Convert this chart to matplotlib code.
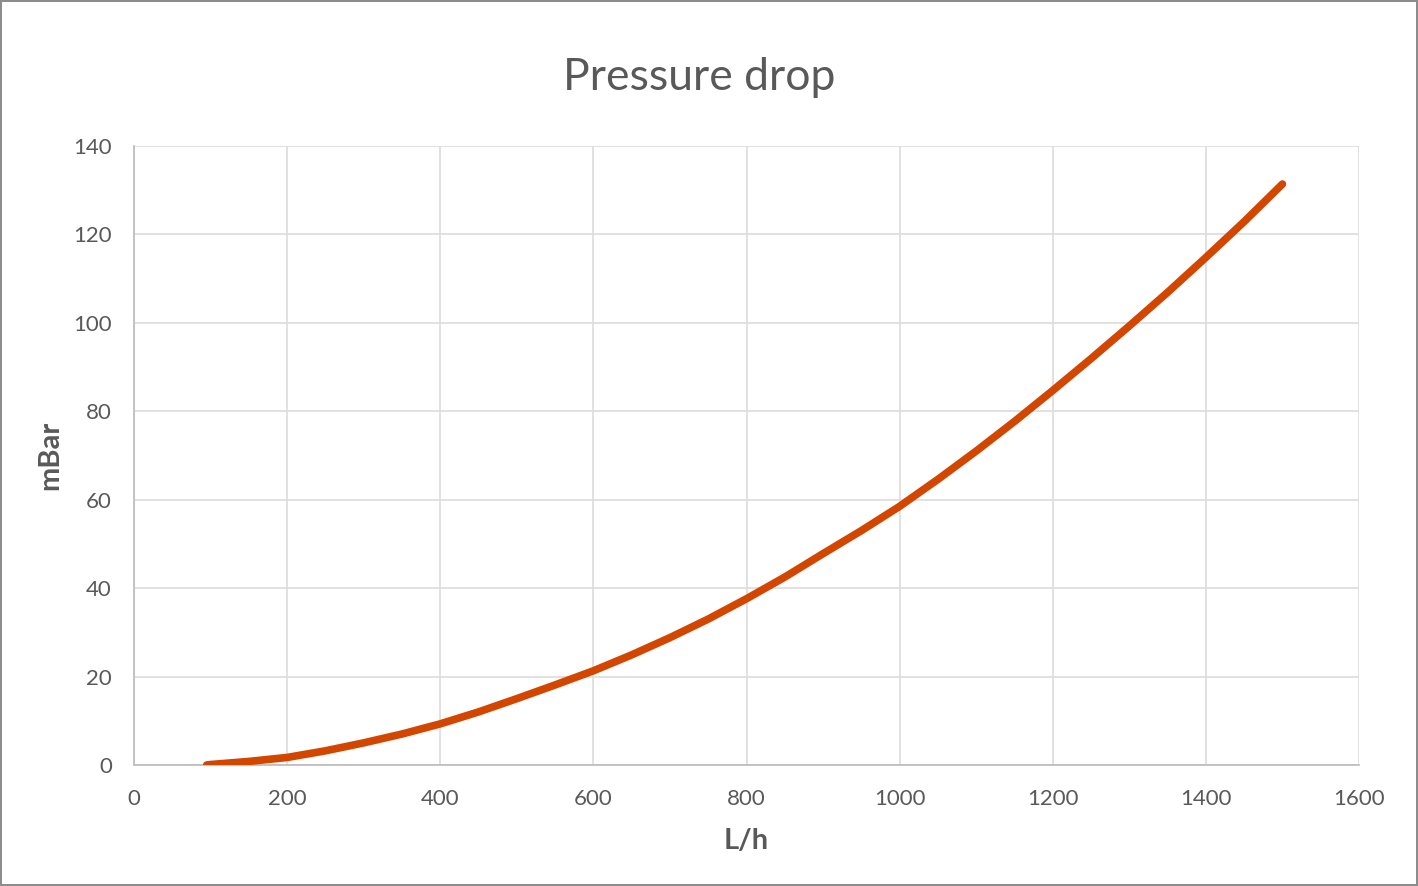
import matplotlib
matplotlib.use('Agg')
import matplotlib.pyplot as plt
import matplotlib.ticker as ticker

# flow (L/h) vs pressure drop (mBar)
flow = [95, 100, 150, 200, 250, 300, 350, 400, 450, 500, 550, 600, 650, 700,
        750, 800, 850, 900, 950, 1000, 1050, 1100, 1150, 1200, 1250, 1300,
        1350, 1400, 1450, 1500]
mbar = [0.0, 0.1, 0.8, 1.7, 3.2, 5.0, 7.0, 9.3, 12.0, 15.0, 18.1, 21.3, 24.9,
        28.8, 33.0, 37.6, 42.5, 47.8, 53.0, 58.5, 64.6, 71.0, 77.7, 84.7, 91.9,
        99.3, 106.9, 114.8, 122.9, 131.4]

TXT = "#595959"
plt.rcParams['font.family'] = ['Lato', 'DejaVu Sans']

fig = plt.figure(figsize=(14.18, 8.86), dpi=100, facecolor="white",
                 edgecolor="#8c8c8c", linewidth=1.5)
ax = fig.add_axes([0.0945, 0.1366, 0.8639, 0.6986])

ax.plot(flow, mbar, color="#D24600", linewidth=5.5, solid_capstyle="round",
        solid_joinstyle="round", zorder=3)

ax.set_xlim(0, 1600); ax.set_ylim(0, 140)
ax.xaxis.set_major_locator(ticker.MultipleLocator(200))
ax.yaxis.set_major_locator(ticker.MultipleLocator(20))
ax.grid(True, color="#DEDEDE", linewidth=1.3)
ax.set_axisbelow(True)
for side in ["top", "right"]:
    ax.spines[side].set_visible(False)
for side in ["left", "bottom"]:
    ax.spines[side].set_color("#BFBFBF")
    ax.spines[side].set_linewidth(1.3)
ax.tick_params(length=0, labelsize=16, colors=TXT)
ax.tick_params(axis="x", pad=17)
ax.tick_params(axis="y", pad=16)

ax.set_xlabel("L/h", fontsize=21, fontweight="bold", color=TXT, labelpad=14)
ax.set_ylabel("mBar", fontsize=21, fontweight="bold", color=TXT, labelpad=7)
fig.text(0.4933, 0.8984, "Pressure drop", fontsize=32, color=TXT,
         ha="center", va="baseline")

fig.savefig("out.png", dpi=100)
